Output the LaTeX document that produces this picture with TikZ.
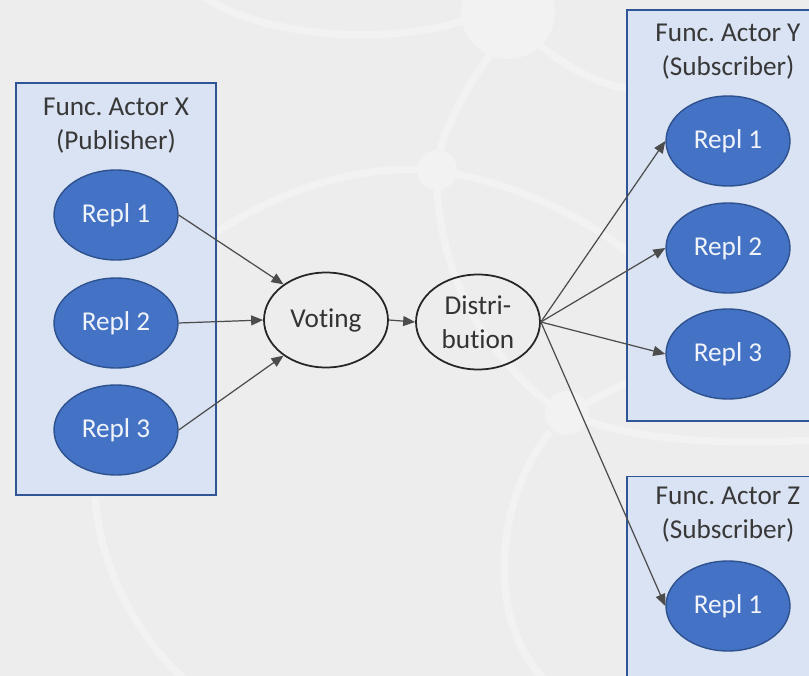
\documentclass[tikz,border=0pt]{standalone}
\usepackage{fontspec}
\setmainfont{Carlito}[Ligatures=NoCommon]
\usetikzlibrary{arrows.meta,shapes.geometric}
\definecolor{bggray}{HTML}{EDEDED}
\definecolor{bgline}{HTML}{F2F2F2}
\definecolor{boxfill}{HTML}{DAE3F3}
\definecolor{boxline}{HTML}{2F5597}
\definecolor{repfill}{HTML}{4472C4}
\definecolor{repline}{HTML}{2F528F}

\begin{document}
\begin{tikzpicture}[x=0.02cm,y=-0.02cm,font=\fontsize{15.5}{19.3}\selectfont,
  web/.style={draw=bgline,line width=4.2pt},
  actor/.style={draw=boxline,fill=boxfill,line width=1.1pt,inner sep=0pt},
  ttl/.style={align=center,text=black!78,inner sep=0pt},
  repl/.style={ellipse,draw=repline,fill=repfill,line width=0.8pt,minimum width=2.48cm,minimum height=1.8cm,inner sep=0pt,text=white!92!repfill},
  stage/.style={ellipse,draw=black!85,line width=1pt,minimum width=2.48cm,minimum height=1.9cm,inner sep=0pt,align=center,text=black!80},
  link/.style={-{Triangle[length=2.4mm,width=2mm]},draw=black!70,line width=0.7pt}]
\useasboundingbox (0,0) rectangle (809,676);
\fill[bggray] (0,0) rectangle (809,676);
\draw[web] (205,-2) .. controls (270,40) and (400,45) .. (470,18);
\draw[web] (540,45) .. controls (570,70) and (600,85) .. (635,90);
\draw[web] (490,55) .. controls (460,95) and (440,140) .. (437,165);
\draw[web] (217,232) .. controls (280,190) and (360,165) .. (425,170);
\draw[web] (450,173) .. controls (520,185) and (590,220) .. (635,258);
\draw[web] (437,185) .. controls (440,260) and (470,340) .. (550,405);
\draw[web] (585,405) .. controls (600,395) and (615,388) .. (630,382);
\draw[web] (585,420) .. controls (640,440) and (720,445) .. (815,440);
\draw[web] (550,432) .. controls (495,500) and (485,620) .. (545,680);
\draw[web] (95,497) .. controls (100,570) and (140,640) .. (185,680);
\fill[bgline] (508,12) circle[radius=47];
\fill[bgline] (437,170) circle[radius=20];
\fill[bgline] (567,413) circle[radius=22];
\node[actor,minimum width=4cm,minimum height=8.24cm] (X) at (116,289) {};
\node[actor,minimum width=3.8cm,minimum height=8.22cm] (Y) at (722,215.5) {};
\node[actor,minimum width=3.8cm,minimum height=4.3cm] (Z) at (722,584) {};
\node[ttl] (xt) at (116,126) {Func.\ Actor X\\(Publisher)};
\node[ttl] (yt) at (728,52) {Func.\ Actor Y\\(Subscriber)};
\node[ttl] (zt) at (728,515) {Func.\ Actor Z\\(Subscriber)};
\foreach \n/\y in {1/215,2/323,3/430}
  \node[repl] (x\n) at (116,\y) {Repl \n};
\foreach \n/\y in {1/141,2/248,3/354}
  \node[repl] (y\n) at (728,\y) {Repl \n};
\node[repl] (z1) at (728,606) {Repl 1};
\node[stage] (vote) at (326,320) {Voting};
\node[stage] (dist) at (478,322) {Distri-\\bution};
\draw[link] (x1.east) -- (vote.140);
\draw[link] (x2.east) -- (vote.west);
\draw[link] (x3.east) -- (vote.220);
\draw[link] (vote.east) -- (dist.west);
\foreach \n in {y1,y2,y3,z1}
  \draw[link] (dist.east) -- (\n.west);
\end{tikzpicture}
\end{document}
